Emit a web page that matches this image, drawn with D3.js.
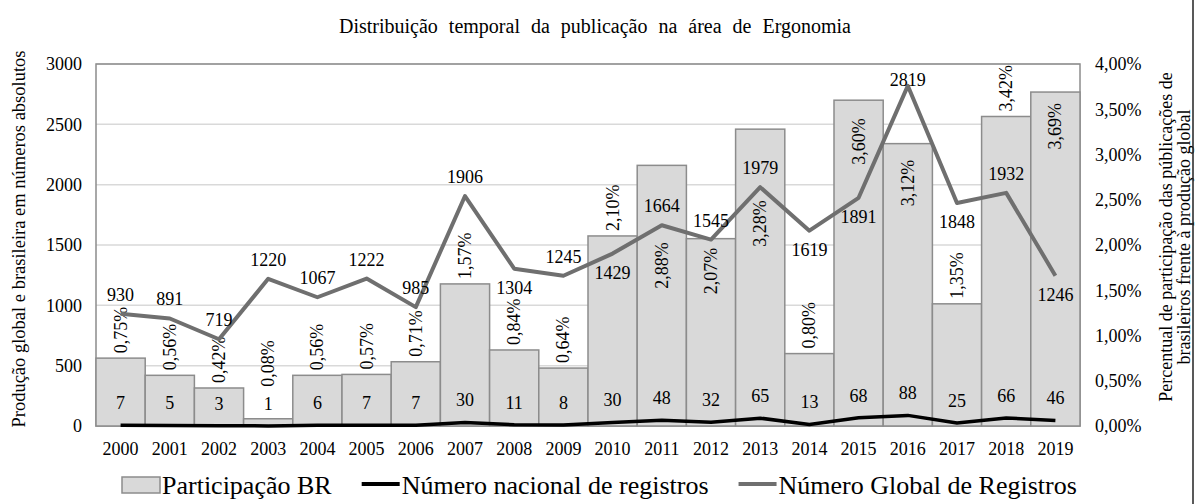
<!DOCTYPE html>
<html>
<head>
<meta charset="utf-8">
<script src="https://cdn.jsdelivr.net/npm/d3@7"></script>
<style>
  body { margin: 0; background: white; }
  text { font-family: "Liberation Serif", "Times New Roman", serif; fill: #000; }
</style>
</head>
<body>
<svg id="chart" width="1197" height="504"></svg>
<script>
const years = ["2000", "2001", "2002", "2003", "2004", "2005", "2006", "2007", "2008", "2009",
  "2010", "2011", "2012", "2013", "2014", "2015", "2016", "2017", "2018", "2019"];
const pctBR = [0.75, 0.56, 0.42, 0.08, 0.56, 0.57, 0.71, 1.57, 0.84, 0.64,
  2.10, 2.88, 2.07, 3.28, 0.80, 3.60, 3.12, 1.35, 3.42, 3.69];
const globalCount = [930, 891, 719, 1220, 1067, 1222, 985, 1906, 1304, 1245,
  1429, 1664, 1545, 1979, 1619, 1891, 2819, 1848, 1932, 1246];
const nationalCount = [7, 5, 3, 1, 6, 7, 7, 30, 11, 8,
  30, 48, 32, 65, 13, 68, 88, 25, 66, 46];
const leftTicks = [0, 500, 1000, 1500, 2000, 2500, 3000];
const rightTicks = [0, 0.5, 1, 1.5, 2, 2.5, 3, 3.5, 4];

const legendItems = ["Participação BR", "Número nacional de registros", "Número Global de Registros"];

// label placement tweaks (as in the original excel chart)
const globalBelow = new Set(["2008", "2010", "2014", "2015", "2017", "2019"]);
const pctInside = { "2011": 77, "2012": 9, "2013": 71, "2015": 18, "2016": 16, "2019": 11 };
const pctAboveGap = { "2003": 32 };

const W = 1197, H = 504;
const m = { left: 96, right: 117, top: 64, bottom: 78 };
const iw = W - m.left - m.right, ih = H - m.top - m.bottom;

const svg = d3.select("#chart");
const comma = (n) => d3.format(".2f")(n).replace(".", ",") + "%";

const x = d3.scaleBand().domain(years).range([m.left, m.left + iw]).padding(0);
const yL = d3.scaleLinear().domain([0, 3000]).range([m.top + ih, m.top]);
const yR = d3.scaleLinear().domain([0, 4]).range([m.top + ih, m.top]);

// title
svg.append("text")
  .attr("x", 595).attr("y", 33)
  .attr("text-anchor", "middle")
  .attr("font-size", "20px")
  .attr("word-spacing", "6px")
  .text("Distribuição temporal da publicação na área de Ergonomia");

// gridlines
svg.append("g")
  .selectAll("line")
  .data(leftTicks.slice(1))
  .join("line")
  .attr("x1", m.left).attr("x2", m.left + iw)
  .attr("y1", (d) => yL(d)).attr("y2", (d) => yL(d))
  .attr("stroke", "#d9d9d9").attr("stroke-width", 1.5);

// plot frame
svg.append("rect")
  .attr("x", m.left).attr("y", m.top)
  .attr("width", iw).attr("height", ih)
  .attr("fill", "none")
  .attr("stroke", "#8c8c8c").attr("stroke-width", 1.5);

// bars (percentage, right axis)
svg.append("g")
  .selectAll("rect")
  .data(years)
  .join("rect")
  .attr("x", (d) => x(d))
  .attr("y", (d, i) => yR(pctBR[i]))
  .attr("width", x.bandwidth())
  .attr("height", (d, i) => yR(0) - yR(pctBR[i]))
  .attr("fill", "#d9d9d9")
  .attr("stroke", "#8c8c8c")
  .attr("stroke-width", 1.5);

// percentage labels
svg.append("g")
  .selectAll("text")
  .data(years)
  .join("text")
  .attr("transform", (d, i) => {
    const top = yR(pctBR[i]);
    const yy = d in pctInside ? top + pctInside[d] : top - (pctAboveGap[d] || 5);
    return `translate(${x(d) + x.bandwidth() / 2}, ${yy}) rotate(-90)`;
  })
  .attr("text-anchor", (d) => (d in pctInside ? "end" : "start"))
  .attr("dominant-baseline", "central")
  .attr("font-size", "18px")
  .text((d, i) => comma(pctBR[i]));

// lines
const line = (vals) =>
  d3.line()
    .x((d, i) => x(years[i]) + x.bandwidth() / 2)
    .y((d) => yL(d))(vals);

svg.append("path")
  .attr("d", line(nationalCount))
  .attr("fill", "none")
  .attr("stroke", "#000")
  .attr("stroke-width", 3.5)
  .attr("stroke-linejoin", "round");

svg.append("path")
  .attr("d", line(globalCount))
  .attr("fill", "none")
  .attr("stroke", "#6f6f6f")
  .attr("stroke-width", 4)
  .attr("stroke-linejoin", "round");

// global labels
svg.append("g")
  .selectAll("text")
  .data(years)
  .join("text")
  .attr("x", (d) => x(d) + x.bandwidth() / 2)
  .attr("y", (d, i) => {
    const p = yL(globalCount[i]);
    return globalBelow.has(d) ? p + 19 : Math.max(p - 19, m.top + 16);
  })
  .attr("text-anchor", "middle")
  .attr("dominant-baseline", "central")
  .attr("font-size", "18px")
  .text((d, i) => globalCount[i]);

// national labels
svg.append("g")
  .selectAll("text")
  .data(years)
  .join("text")
  .attr("x", (d) => x(d) + x.bandwidth() / 2)
  .attr("y", (d, i) => yL(nationalCount[i]) - 22)
  .attr("text-anchor", "middle")
  .attr("dominant-baseline", "central")
  .attr("font-size", "18px")
  .text((d, i) => nationalCount[i]);

// axes
const axL = svg.append("g")
  .attr("transform", `translate(${m.left},0)`)
  .call(d3.axisLeft(yL).tickValues(leftTicks).tickSize(0).tickPadding(14).tickFormat(d3.format("d")));
const axR = svg.append("g")
  .attr("transform", `translate(${m.left + iw},0)`)
  .call(d3.axisRight(yR).tickValues(rightTicks).tickSize(0).tickPadding(15).tickFormat(comma));
const axB = svg.append("g")
  .attr("transform", `translate(0,${m.top + ih})`)
  .call(d3.axisBottom(x).tickSize(0).tickPadding(16));
[axL, axR, axB].forEach((g) => {
  g.select(".domain").remove();
  g.selectAll("text").attr("font-size", "18px").attr("font-family", "Liberation Serif, serif").attr("fill", "#000");
});

// axis titles
svg.append("text")
  .attr("transform", `translate(19, ${m.top + ih / 2 - 6}) rotate(-90)`)
  .attr("text-anchor", "middle")
  .attr("dominant-baseline", "central")
  .attr("font-size", "18.5px")
  .text("Produção global e brasileira em números absolutos");

const rt = svg.append("text")
  .attr("transform", `translate(1166, ${m.top + ih / 2 - 8}) rotate(-90)`)
  .attr("text-anchor", "middle")
  .attr("font-size", "18px");
rt.append("tspan").attr("x", 0).attr("dy", "0.32em").text("Percentual de participação das públicações de");
rt.append("tspan").attr("x", 0).attr("dy", "1.0em").text("brasileiros frente à produção global");

// right border
svg.append("line")
  .attr("x1", 1193).attr("x2", 1193).attr("y1", 0).attr("y2", H)
  .attr("stroke", "#222").attr("stroke-width", 1.5);

// legend
const lg = svg.append("g");
let lx = 122;
const ly = 485;
legendItems.forEach((name, i) => {
  if (i === 0) {
    lg.append("rect").attr("x", lx).attr("y", ly - 8).attr("width", 38).attr("height", 16)
      .attr("fill", "#d9d9d9").attr("stroke", "#8c8c8c").attr("stroke-width", 1.5);
  } else {
    lg.append("line").attr("x1", lx).attr("x2", lx + 38).attr("y1", ly - 1).attr("y2", ly - 1)
      .attr("stroke", i === 1 ? "#000" : "#6f6f6f").attr("stroke-width", 4);
  }
  const t = lg.append("text")
    .attr("x", lx + 40).attr("y", ly)
    .attr("dominant-baseline", "central")
    .attr("font-size", "26px")
    .text(name);
  lx += 40 + t.node().getComputedTextLength() + 30;
});
</script>
</body>
</html>
